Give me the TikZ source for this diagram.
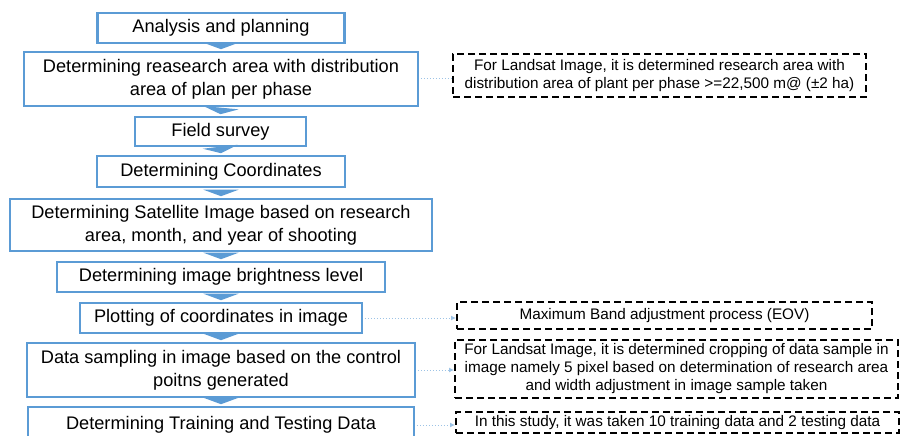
\documentclass[tikz,border=0pt]{standalone}
\usepackage{fontspec}
\setmainfont{Liberation Sans}
\usetikzlibrary{arrows.meta}
\definecolor{boxblue}{HTML}{5B9BD5}
\definecolor{dotblue}{HTML}{9DC3E6}
\begin{document}
\begin{tikzpicture}[x=1pt,y=-1pt,
 box/.style={draw=boxblue, line width=2.8pt, fill=white, align=center, inner sep=0pt, font=\fontsize{18.2}{23}\selectfont, text=black},
 note/.style={draw=black, dash pattern=on 7pt off 4pt, line width=2pt, fill=white, align=center, inner sep=0pt, font=\fontsize{15.3}{18}\selectfont},
 flow/.style={boxblue, line width=15pt, -{Triangle[width=35pt,length=6.5pt]}},
 link/.style={dotblue, line width=1pt, dotted, -{Latex[length=5pt,width=5pt]}},
 linkplain/.style={dotblue, line width=1pt, dotted}]
\useasboundingbox (0,0) rectangle (900,436);
\clip (0,0) rectangle (900,436);
\fill[white] (0,0) rectangle (900,436);

\node[box, minimum width=247pt, minimum height=30pt] (b1) at (221,28) {Analysis and planning};
\node[box, minimum width=394pt, minimum height=54pt] (b2) at (221,79) {Determining reasearch area with distribution\\area of plan per phase};
\node[box, minimum width=171pt, minimum height=29pt] (b3) at (220.5,131.5) {Field survey};
\node[box, minimum width=248pt, minimum height=31pt] (b4) at (221,171.5) {Determining Coordinates};
\node[box, minimum width=422pt, minimum height=52pt] (b5) at (221,225) {Determining Satellite Image based on research\\area, month, and year of shooting};
\node[box, minimum width=328pt, minimum height=30pt] (b6) at (221,277) {Determining image brightness level};
\node[box, minimum width=282pt, minimum height=30pt] (b7) at (221,318) {Plotting of coordinates in image};
\node[box, minimum width=388pt, minimum height=54pt] (b8) at (221,370) {Data sampling in image based on the control\\poitns generated};
\node[box, minimum width=386pt, minimum height=36pt] (b9) at (221,425) {Determining Training and Testing Data};

\node[note, minimum width=413pt, minimum height=43pt] (n1) at (659.5,75.5) {For Landsat Image, it is determined research area with\\distribution area of plant per phase >=22,500 m@ (±2 ha)};
\node[note, minimum width=415pt, minimum height=27pt] (n2) at (664.5,315.5) {Maximum Band adjustment process (EOV)};
\node[note, minimum width=443pt, minimum height=58pt] (n3) at (676.5,369) {For Landsat Image, it is determined cropping of data sample in\\image namely 5 pixel based on determination of research area\\and width adjustment in image sample taken};
\node[note, minimum width=443pt, minimum height=21pt] (n4) at (677.5,422.5) {In this study, it was taken 10 training data and 2 testing data};

\foreach \a/\b in {b1/b2,b2/b3,b3/b4,b4/b5,b5/b6,b6/b7,b7/b8,b8/b9}
  \draw[flow] ([yshift=-1.4pt]\a.south) -- ([yshift=1.4pt]\b.north);

\draw[linkplain] ([xshift=1.4pt]b2.east) -- (b2.east -| n1.west);
\draw[link] ([xshift=1.4pt]b7.east) -- (b7.east -| n2.west);
\draw[link] ([xshift=1.4pt]b8.east) -- (b8.east -| n3.west);
\draw[link] ([xshift=1.4pt]b9.east) -- (b9.east -| n4.west);
\end{tikzpicture}
\end{document}
